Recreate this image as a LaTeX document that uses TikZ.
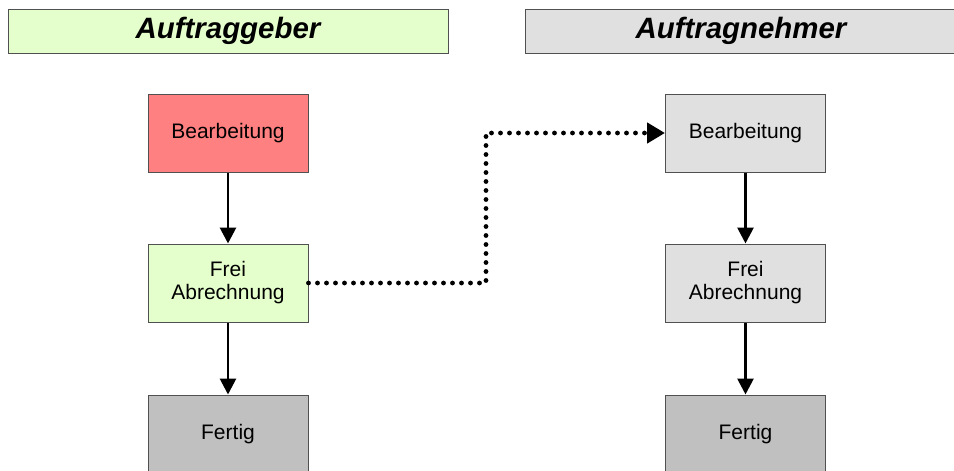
\documentclass[tikz,border=0pt]{standalone}
\usepackage{fontspec}
\setmainfont{Liberation Sans}
\usetikzlibrary{arrows.meta}

\definecolor{boxred}{HTML}{FF8080}
\definecolor{boxgreen}{HTML}{E5FFCC}
\definecolor{boxlight}{HTML}{E0E0E0}
\definecolor{boxdark}{HTML}{C0C0C0}
\definecolor{boxline}{HTML}{505050}

\begin{document}
\begin{tikzpicture}[x=0.5pt,y=-0.5pt,
    statebox/.style={draw=boxline,line width=0.5pt,minimum width=80pt,minimum height=39pt,
      inner sep=0pt,align=center,font=\fontsize{10.5}{11.5}\selectfont},
    headbox/.style={draw=boxline,line width=0.5pt,minimum height=22pt,inner sep=0pt,
      font=\fontsize{14.7}{16}\selectfont\bfseries\itshape},
    flow/.style={line width=1.4pt,-{Triangle[length=8pt,width=8pt]}},
    handover/.style={line width=2.4pt,line cap=round,dash pattern=on 0pt off 4.5pt,
      -{Triangle[length=9pt,width=10pt]}}]
          \useasboundingbox (0,0) rectangle (954,471);
          \node[headbox,fill=boxgreen,minimum width=220pt] (AG) at (228,31) {\raisebox{-1pt}{Auftraggeber}};
          \node[headbox,fill=boxlight,minimum width=216pt] (AN) at (741,31) {\raisebox{-1pt}{Auftragnehmer}};
          \node[statebox,fill=boxred] (AGB) at (228,133) {Bearbeitung};
          \node[statebox,fill=boxgreen] (AGF) at (228,283) {Frei\\Abrechnung};
          \node[statebox,fill=boxdark] (AGE) at (228,434) {Fertig};
          \node[statebox,fill=boxlight] (ANB) at (745.5,133) {Bearbeitung};
          \node[statebox,fill=boxlight] (ANF) at (745.5,283) {Frei\\Abrechnung};
          \node[statebox,fill=boxdark] (ANE) at (745.5,434) {Fertig};
          \coordinate (K1) at (486,283);
          \coordinate (K2) at (486,133);
          \draw[flow] (AGB) to (AGF);
          \draw[flow] (AGF) to (AGE);
          \draw[flow] (ANB) to (ANF);
          \draw[flow] (ANF) to (ANE);
          \draw[handover] (AGF.east) -- (K1) -- (K2) -- (ANB.west);
        \end{tikzpicture}
\end{document}
